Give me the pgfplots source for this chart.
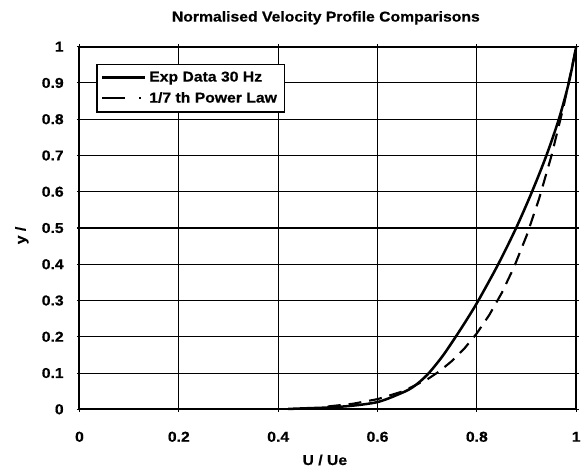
\documentclass[border=0pt]{standalone}
\usepackage{pgfplots}
\pgfplotsset{compat=1.18}
\usepackage{fontspec}
\setmainfont[FakeStretch=1.1, BoldFeatures={FakeBold=0.5}]{Liberation Sans}
\newcommand{\chartfont}{\fontsize{10.8}{13}\selectfont\bfseries}
\begin{document}
\begin{tikzpicture}
\path (-60pt,-43.5pt) rectangle (378.75pt,309pt);
\begin{axis}[
  at={(0pt,0pt)}, anchor=south west,
  scale only axis, width=375pt, height=273.75pt,
  xmin=0, xmax=1, ymin=0, ymax=1,
  xtick={0,0.2,0.4,0.6,0.8,1},
  ytick={0,0.1,0.2,0.3,0.4,0.5,0.6,0.7,0.8,0.9,1},
  xticklabels={0,0.2,0.4,0.6,0.8,1},
  yticklabels={0,0.1,0.2,0.3,0.4,0.5,0.6,0.7,0.8,0.9,1},
  /pgf/number format/assume math mode=true,
  tick label style={font=\chartfont},
  xticklabel style={anchor=center, yshift=-18.75pt},
  yticklabel style={anchor=east, inner sep=0pt, xshift=-9.75pt},
  tick align=center, major tick length=4pt,
  tick style={black, line width=0.8pt},
  grid=major,
  major grid style={black, line width=0.8pt},
  axis line style={black, line width=1.5pt},
  legend cell align=left,
  legend style={at={(rel axis cs:0,1)}, anchor=north west, xshift=12.75pt, yshift=-12.75pt,
    draw=black, line width=1.1pt, font=\chartfont, inner xsep=3pt, inner ysep=3.5pt,
    row sep=2.5pt, nodes={inner xsep=2.5pt}},
  clip=false,
]
\addplot[black, line width=1.9pt, smooth, tension=0.5,
  legend image code/.code={\draw[black, line width=1.9pt] (0pt,0pt) -- (32pt,0pt);}]
  coordinates {
  (0.42,0.001) (0.46,0.003) (0.50,0.005) (0.55,0.010) (0.60,0.020)
  (0.64,0.040) (0.67,0.060) (0.70,0.095) (0.73,0.145) (0.755,0.195)
  (0.78,0.248) (0.803,0.300) (0.843,0.400) (0.879,0.500) (0.911,0.600)
  (0.940,0.700) (0.965,0.800) (0.985,0.900) (1.00,1.00)};
\addlegendentry{Exp Data 30 Hz}
\addplot[black, line width=1.6pt, dash pattern=on 9.75pt off 6pt,
  legend image code/.code={\draw[black, line width=1.6pt, dash pattern=on 17pt off 11pt on 1.5pt off 10pt] (0pt,0pt) -- (32pt,0pt);}]
  coordinates {
  (0.50,0.0078) (0.55,0.0152) (0.60,0.0280) (0.65,0.0490) (0.70,0.0824)
  (0.725,0.1053) (0.75,0.1335) (0.775,0.1679) (0.80,0.2097) (0.825,0.2601)
  (0.85,0.3206) (0.875,0.3927) (0.90,0.4783) (0.925,0.5794) (0.95,0.6983)
  (0.975,0.8376) (1.00,1.00)};
\addlegendentry{1/7 th Power Law}
\end{axis}
\node[font=\chartfont] at (186pt,295.5pt) {Normalised Velocity Profile Comparisons};
\node[font=\chartfont] at (185.25pt,-38.25pt) {U / Ue};
\node[font=\chartfont, rotate=90] at (-43.5pt,131.25pt) {y /};
\end{tikzpicture}
\end{document}
